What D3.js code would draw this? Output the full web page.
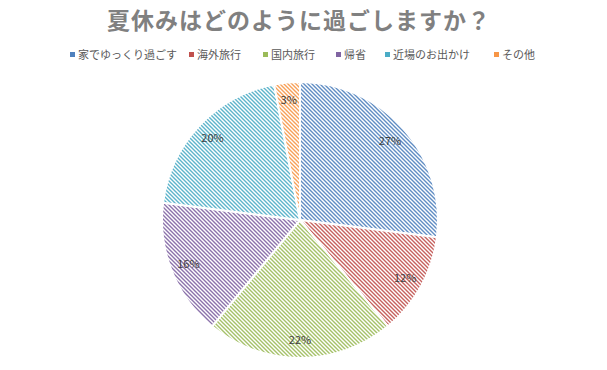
<!DOCTYPE html>
<html>
<head>
<meta charset="utf-8">
<script src="https://cdn.jsdelivr.net/npm/d3@7"></script>
<style>
  body { margin: 0; background: #fff; }
  text { font-family: "Noto Sans CJK JP", "Noto Sans", sans-serif; }
</style>
</head>
<body>
<svg width="607" height="370"></svg>
<script>
const categories = ["家でゆっくり過ごす", "海外旅行", "国内旅行", "帰省", "近場のお出かけ", "その他"];
const values = [27, 12, 22, 16, 20, 3];
const colors = ["#4F81BD", "#C0504D", "#9BBB59", "#8064A2", "#4BACC6", "#F79646"];
const legendX = [72, 191, 265, 338, 387, 496];

const svg = d3.select("svg");
const cx = 300, cy = 220, r = 138;

// stripe patterns, one per slice colour
const defs = svg.append("defs");
colors.forEach((c, i) => {
  const p = defs.append("pattern")
    .attr("id", "hatch" + i)
    .attr("patternUnits", "userSpaceOnUse")
    .attr("width", 4).attr("height", 4);
  p.append("rect").attr("width", 4).attr("height", 4).attr("fill", "#fff");
  p.append("path")
    .attr("d", "M-1,-1 L5,5 M-1,3 L1,5 M3,-1 L5,1")
    .attr("stroke", c)
    .attr("stroke-width", 1.4)
    .attr("stroke-opacity", 0.9);
});

const pie = d3.pie().sort(null).value(d => d);
const arcs = pie(values);
const arc = d3.arc().innerRadius(0).outerRadius(r);
const labelArc = d3.arc().innerRadius(120).outerRadius(120);

const g = svg.append("g").attr("transform", `translate(${cx},${cy})`);

g.selectAll("path.slice")
  .data(arcs)
  .enter().append("path")
  .attr("class", "slice")
  .attr("d", arc)
  .attr("fill", (d, i) => `url(#hatch${i})`)
  .attr("stroke", "#fff")
  .attr("stroke-width", 2);

g.selectAll("text.lbl")
  .data(arcs)
  .enter().append("text")
  .attr("class", "lbl")
  .attr("transform", d => `translate(${labelArc.centroid(d)})`)
  .attr("text-anchor", "middle")
  .attr("dy", "0.35em")
  .attr("font-size", 11)
  .attr("fill", "#404040")
  .text(d => d.data + "%");

// title
svg.append("text")
  .attr("x", 299).attr("y", 29)
  .attr("text-anchor", "middle")
  .attr("font-size", 23)
  .attr("font-weight", "bold")
  .attr("fill", "#808080")
  .attr("letter-spacing", 1)
  .text("夏休みはどのように過ごしますか？");

// legend
const leg = svg.append("g");
categories.forEach((c, i) => {
  leg.append("rect")
    .attr("x", legendX[i] - 2).attr("y", 52)
    .attr("width", 5).attr("height", 5)
    .attr("fill", colors[i]);
  leg.append("text")
    .attr("x", legendX[i] + 6).attr("y", 59)
    .attr("font-size", 11)
    .attr("fill", "#595959")
    .text(c);
});
</script>
</body>
</html>
